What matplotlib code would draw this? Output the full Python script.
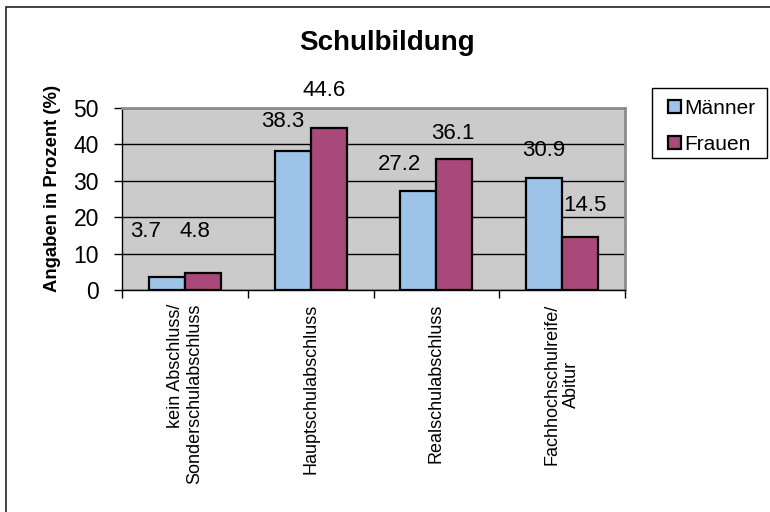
import matplotlib
matplotlib.use('Agg')
import matplotlib.pyplot as plt
import numpy as np
from matplotlib.patches import Rectangle

# ---- data ----
categories = ['kein Abschluss/\nSonderschulabschluss', 'Hauptschulabschluss',
              'Realschulabschluss', 'Fachhochschulreife/\nAbitur']
maenner = [3.7, 38.3, 27.2, 30.9]
frauen = [4.8, 44.6, 36.1, 14.5]
series_names = ['Männer', 'Frauen']
yticks = [0, 10, 20, 30, 40, 50]
title = 'Schulbildung'
ylabel = 'Angaben in Prozent (%)'

# ---- style (label offsets in pixels, relative to bar top centre) ----
off_m = [(-21, 45), (-10, 29), (-19, 26), (0, 27)]
off_f = [(-8, 41), (-4, 37), (-2, 25), (5, 32)]
cat_align = ['right', 'center', 'center', 'center']

plt.rcParams['font.family'] = ['Liberation Sans', 'DejaVu Sans']

W, H = 770, 512
fig = plt.figure(figsize=(W / 100, H / 100), dpi=100)
fig.patch.set_facecolor('white')

ax = fig.add_axes([122 / W, 1 - 290 / H, 503 / W, 182 / H])
x = np.arange(len(categories))
w = 1 / 3.5
c_m, c_f = '#9DC3E8', '#A9497A'
bm = ax.bar(x - w / 2, maenner, w, color=c_m, edgecolor='black', linewidth=1.6,
            zorder=3, label=series_names[0])
bf = ax.bar(x + w / 2, frauen, w, color=c_f, edgecolor='black', linewidth=1.6,
            zorder=3, label=series_names[1])

ax.set_xlim(-0.5, len(categories) - 0.5)
ax.set_ylim(0, 50)
ax.set_facecolor('#CBCBCB')
ax.yaxis.grid(True, color='black', linewidth=1.0, zorder=1)
ax.set_axisbelow(True)
for s in ['left', 'bottom']:
    ax.spines[s].set_color('black')
    ax.spines[s].set_linewidth(1.0)
for s in ['top', 'right']:
    ax.spines[s].set_color('#8C8C8C')
    ax.spines[s].set_linewidth(2.0)

ax.set_yticks(yticks)
ax.set_yticklabels([str(t) for t in yticks], fontsize=16.5)
ax.tick_params(axis='y', length=6, width=1, pad=10.5, color='black')

ax.set_xticks(np.arange(len(categories) + 1) - 0.5)
ax.set_xticklabels([])
ax.tick_params(axis='x', which='major', length=6, width=1, color='black')
ax.set_xticks(x, minor=True)
ax.set_xticklabels(categories, minor=True, rotation=90, fontsize=13,
                   va='top', ha='center')
ax.tick_params(axis='x', which='minor', length=0, pad=10)
for lab, al in zip(ax.get_xticklabels(minor=True), cat_align):
    lab.set_multialignment(al)

for bars, vals, offs in [(bm, maenner, off_m), (bf, frauen, off_f)]:
    for b, v, (dx, dy) in zip(bars, vals, offs):
        ax.annotate(f'{v:.1f}', xy=(b.get_x() + b.get_width() / 2, v),
                    xytext=(dx, dy), textcoords='offset pixels',
                    ha='center', va='center', fontsize=16, annotation_clip=False)

fig.text(387 / W, 1 - 43 / H, title, fontsize=20, fontweight='bold',
         ha='center', va='center')
fig.text(53 / W, 1 - 188 / H, ylabel, fontsize=13.3, fontweight='bold',
         rotation=90, ha='center', va='center')

# legend (frame drawn separately)
leg = fig.legend(handles=[bm, bf], labels=series_names, loc='upper left',
                 bbox_to_anchor=(668 / W, 1 - 99 / H), fontsize=15,
                 frameon=False, handlelength=0.6, handleheight=0.6,
                 handletextpad=0.2, labelspacing=0.8, borderpad=0,
                 borderaxespad=0)
for p in leg.legend_handles:
    p.set_linewidth(1.6)
fig.patches.append(Rectangle((652 / W, 1 - 158 / H), 115 / W, 70 / H,
                             transform=fig.transFigure, facecolor='white',
                             edgecolor='black', linewidth=1.0, zorder=0))

fig.patches.append(Rectangle((6.5 / W, -0.2), 1.5, 1.2 - 7 / H,
                             transform=fig.transFigure, fill=False,
                             edgecolor='#222222', linewidth=1.2))

fig.savefig('out.png', dpi=100)
